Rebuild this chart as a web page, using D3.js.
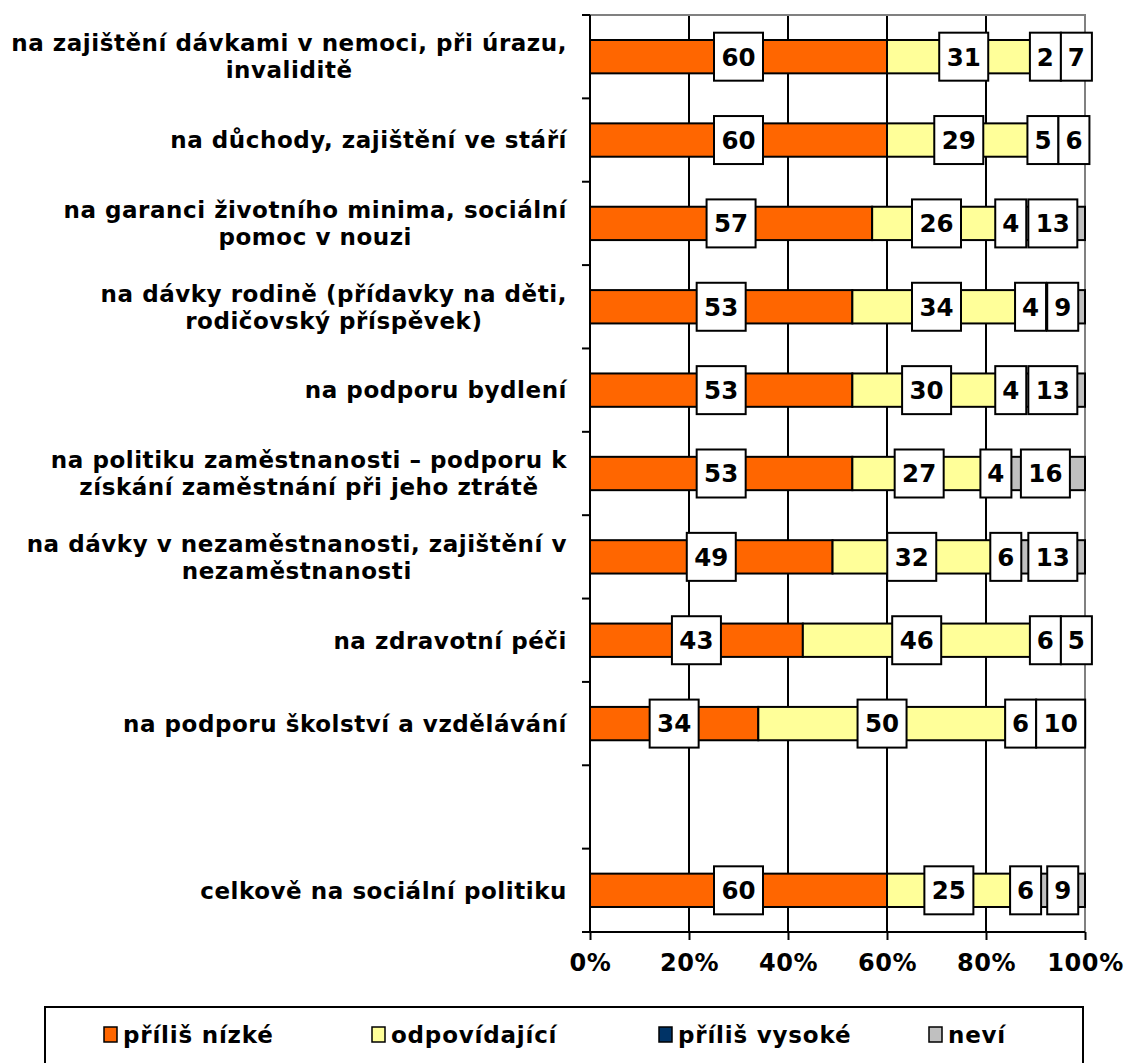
<!DOCTYPE html>
<html><head><meta charset="utf-8">
<script src="https://cdn.jsdelivr.net/npm/d3@7"></script>
<style>
html,body{margin:0;padding:0;background:#fff;}
svg{display:block;font-family:"DejaVu Sans",Verdana,sans-serif;font-weight:bold;}
</style></head>
<body>
<svg id="chart" width="1128" height="1063"></svg>
<script>
const categories = [
  ["na zajištění dávkami v nemoci, při úrazu,", "invaliditě"],
  ["na důchody, zajištění ve stáří"],
  ["na garanci životního minima, sociální", "pomoc v nouzi"],
  ["na dávky rodině (přídavky na děti,", "rodičovský příspěvek)"],
  ["na podporu bydlení"],
  ["na politiku zaměstnanosti – podporu k", "získání zaměstnání při jeho ztrátě"],
  ["na dávky v nezaměstnanosti, zajištění v", "nezaměstnanosti"],
  ["na zdravotní péči"],
  ["na podporu školství a vzdělávání"],
  [],
  ["celkově na sociální politiku"]
];
const prilisNizke  = [60, 60, 57, 53, 53, 53, 49, 43, 34, null, 60];
const odpovidajici = [31, 29, 26, 34, 30, 27, 32, 46, 50, null, 25];
const prilisVysoke = [2, 5, 4, 4, 4, 4, 6, 6, 6, null, 6];
const nevi         = [7, 6, 13, 9, 13, 16, 13, 5, 10, null, 9];
const seriesNames  = ["příliš nízké", "odpovídající", "příliš vysoké", "neví"];
const seriesColors = ["#FF6600", "#FFFF99", "#003366", "#C0C0C0"];
const tickValues   = [0, 0.2, 0.4, 0.6, 0.8, 1];

(function () {
const seriesValues = [prilisNizke, odpovidajici, prilisVysoke, nevi];
const svg = d3.select("#chart");
const pLeft = 590, pRight = 1085, pTop = 15, pBottom = 932;

const x = d3.scaleLinear().domain([0, 1]).range([pLeft, pRight]);
const y = d3.scaleBand().domain(d3.range(categories.length)).range([pTop, pBottom]).padding(0);
const barH = y.bandwidth() * 0.4;

// gridlines
svg.append("g").selectAll("line").data(tickValues.slice(1, -1)).join("line")
  .attr("x1", d => x(d)).attr("x2", d => x(d)).attr("y1", pTop).attr("y2", pBottom)
  .attr("stroke", "#000").attr("stroke-width", 2);
// plot border top/right (gray)
svg.append("path").attr("d", `M${pLeft},${pTop}H${pRight}V${pBottom}`)
  .attr("fill", "none").attr("stroke", "#808080").attr("stroke-width", 2);

// stacked data
const rows = categories.map((c, i) => {
  let acc = 0;
  const segs = [];
  seriesValues.forEach((s, k) => {
    const v = s[i];
    if (v == null) return;
    segs.push({i, k, x0: acc / 100, x1: (acc + v) / 100, v});
    acc += v;
  });
  return segs;
});
const allSegs = rows.flat();

svg.append("g").selectAll("rect").data(allSegs).join("rect")
  .attr("x", d => x(d.x0)).attr("width", d => x(d.x1) - x(d.x0))
  .attr("y", d => y(d.i) + (y.bandwidth() - barH) / 2).attr("height", barH)
  .attr("fill", d => seriesColors[d.k]).attr("stroke", "#000").attr("stroke-width", 2);

// axes
const xAxis = svg.append("g").attr("transform", `translate(0,${pBottom})`)
  .call(d3.axisBottom(x).tickValues(tickValues).tickFormat(d3.format(".0%")).tickSize(8).tickPadding(14));
xAxis.select(".domain").attr("stroke", "#000").attr("stroke-width", 2).attr("d", `M${pLeft - 8},0H${pRight}`);
xAxis.selectAll(".tick line").attr("stroke", "#000").attr("stroke-width", 2);
xAxis.selectAll(".tick text").attr("font-size", 24).attr("letter-spacing", 0.6)
  .attr("font-family", "DejaVu Sans").attr("font-weight", "bold").attr("fill", "#000");

const yTicks = d3.range(categories.length + 1).map(i => pTop + i * y.step());
svg.append("g").selectAll("line").data(yTicks).join("line")
  .attr("x1", pLeft - 8).attr("x2", pLeft).attr("y1", d => d).attr("y2", d => d)
  .attr("stroke", "#000").attr("stroke-width", 2);
svg.append("line").attr("x1", pLeft).attr("x2", pLeft).attr("y1", pTop).attr("y2", pBottom)
  .attr("stroke", "#000").attr("stroke-width", 2);

// category labels
const labelRight = 567, lineH = 27, catFont = 23;
categories.forEach((lines, i) => {
  if (!lines.length) return;
  const g = svg.append("g");
  const cy = y(i) + y.bandwidth() / 2;
  const texts = lines.map((ln, j) => g.append("text")
    .attr("font-size", catFont).attr("letter-spacing", 0.55).attr("text-anchor", "middle")
    .attr("y", cy + (j - (lines.length - 1) / 2) * lineH).attr("dy", "0.36em").text(ln));
  const w = d3.max(texts, t => t.node().getComputedTextLength());
  texts.forEach(t => t.attr("x", labelRight - w / 2));
});

// data labels with white boxes, pushed right to avoid overlap
const boxH = 48;
rows.forEach(segs => {
  let prevRight = -Infinity;
  segs.forEach(d => {
    const g = svg.append("g");
    const cy = y(d.i) + y.bandwidth() / 2;
    const t = g.append("text").attr("font-size", 24.5).attr("text-anchor", "middle")
      .attr("dy", "0.36em").attr("y", cy).text(d.v);
    const bw = String(d.v).length > 1 ? 49 : 31;
    let cx = (x(d.x0) + x(d.x1)) / 2;
    if (cx - bw / 2 < prevRight) cx = prevRight + bw / 2;
    prevRight = cx + bw / 2;
    t.attr("x", cx);
    g.insert("rect", "text").attr("x", cx - bw / 2).attr("y", cy - boxH / 2)
      .attr("width", bw).attr("height", boxH)
      .attr("fill", "#fff").attr("stroke", "#000").attr("stroke-width", 2);
  });
});

// legend
svg.append("rect").attr("x", 45).attr("y", 1007).attr("width", 1038).attr("height", 90)
  .attr("fill", "#fff").attr("stroke", "#000").attr("stroke-width", 2);
const legendX = [104, 372, 659, 929];
const lg = svg.append("g").selectAll("g").data(seriesNames).join("g")
  .attr("transform", (d, i) => `translate(${legendX[i]},1027)`);
lg.append("rect").attr("width", 13).attr("height", 15)
  .attr("fill", (d, i) => seriesColors[i]).attr("stroke", "#000").attr("stroke-width", 1.5);
lg.append("text").attr("x", 19).attr("y", 7.5).attr("dy", "0.36em")
  .attr("font-size", 23).attr("letter-spacing", 0.8).text(d => d);
})();
</script>
</body></html>
